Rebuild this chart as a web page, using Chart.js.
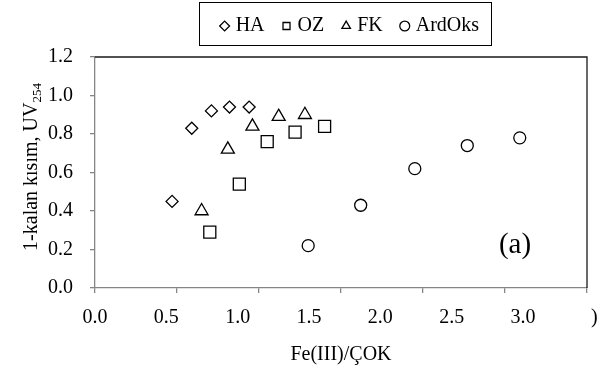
<!DOCTYPE html>
<html>
<head>
<meta charset="utf-8">
<script src="https://cdn.jsdelivr.net/npm/chart.js@4.4.0/dist/chart.umd.min.js"></script>
<style>
    html, body { margin: 0; padding: 0; background: #fff; }
    #contenedor { width: 611px; height: 367px; }
</style>
</head>
<body>
<div id="contenedor"><canvas id="grafico" width="611" height="367"></canvas></div>
<script>
// series (x = Fe(III)/ÇOK, y = 1-kalan kısım UV254)
var nombresSeries = ['HA', 'OZ', 'FK', 'ArdOks'];
var xHA = [0.47, 0.59, 0.71, 0.82, 0.94];
var yHA = [0.45, 0.83, 0.92, 0.94, 0.94];
var xOZ = [0.70, 0.88, 1.05, 1.22, 1.40];
var yOZ = [0.29, 0.54, 0.76, 0.81, 0.84];
var xFK = [0.65, 0.81, 0.96, 1.12, 1.28];
var yFK = [0.40, 0.72, 0.84, 0.89, 0.90];
var xArd = [1.30, 1.62, 1.95, 2.27, 2.59];
var yArd = [0.22, 0.43, 0.62, 0.74, 0.78];

// ejes
var marcasX = [0, 0.5, 1.0, 1.5, 2.0, 2.5, 3.0];
var valoresEtiquetasX = [0, 0.5, 1.0, 1.5, 2.0, 2.5, 3.0, 3.5];
var etiquetasX = ['0.0', '0.5', '1.0', '1.5', '2.0', '2.5', '3.0', ')'];
var marcasY = [0, 0.2, 0.4, 0.6, 0.8, 1.0, 1.2];
var tituloX = 'Fe(III)/ÇOK';
var tituloY = '1-kalan kısım, UV';
var subTituloY = '254';
var rotulo = '(a)';

var fuente = "'Liberation Serif', 'Times New Roman', serif";
var gris = '#868686';

function puntos(xs, ys) {
    var salida = [];
    for (var i = 0; i < xs.length; i++) {
        salida.push({ x: xs[i], y: ys[i] });
    }
    return salida;
}

function serie(nombre, xs, ys, estilo, radio) {
    return {
        label: nombre,
        data: puntos(xs, ys),
        xAxisID: 'x',
        yAxisID: 'y',
        pointStyle: estilo,
        pointRadius: radio,
        pointHoverRadius: radio,
        borderColor: '#000',
        backgroundColor: 'rgba(255,255,255,0)',
        pointBorderWidth: 1.3,
        showLine: false
    };
}

var plugMarco = {
    id: 'marco',
    afterLayout: function (chart) {
        var lg = chart.legend;
        if (!lg || !lg.lineWidths) return;
        var p = lg.options.labels.padding;
        var lw = lg.lineWidths[0];
        var inicio = (lg.left + p + lg.right - lw) / 2;
        var s = 349 + 2.35 - (lw - p) / 2 - inicio;
        lg.left += s;
        lg.right += s;
        var alto = lg.bottom - lg.top;
        lg.top = 28 - p - 12;
        lg.bottom = lg.top + alto;
    },
    afterDraw: function (chart) {
        var ctx = chart.ctx;
        var area = chart.chartArea;
        ctx.save();
        // borde superior y derecho del area
        ctx.strokeStyle = '#1a1a1a';
        ctx.lineWidth = 1.3;
        ctx.beginPath();
        ctx.moveTo(area.left, area.top);
        ctx.lineTo(area.right, area.top);
        ctx.lineTo(area.right, area.bottom);
        ctx.stroke();

        // caja de la leyenda
        var cajas = chart.legend.legendHitBoxes;
        if (cajas && cajas.length) {
            var primera = cajas[0];
            var ultima = cajas[cajas.length - 1];
            var cy = primera.top + primera.height / 2;
            var izq = Math.round(primera.left - 4.7 - 20);
            var der = Math.round(ultima.left + ultima.width + 12);
            ctx.strokeStyle = '#000';
            ctx.lineWidth = 1;
            ctx.strokeRect(izq + 0.5, Math.round(cy - 24.5) + 0.5, der - izq, 43);
        }

        // titulo del eje Y con subindice
        ctx.fillStyle = '#000';
        ctx.translate(37, 167);
        ctx.rotate(-Math.PI / 2);
        ctx.textBaseline = 'alphabetic';
        ctx.font = '20px ' + fuente;
        var w1 = ctx.measureText(tituloY).width;
        ctx.font = '13px ' + fuente;
        var w2 = ctx.measureText(subTituloY).width;
        var x0 = -(w1 + w2) / 2;
        ctx.font = '20px ' + fuente;
        ctx.fillText(tituloY, x0, 0);
        ctx.font = '13px ' + fuente;
        ctx.fillText(subTituloY, x0 + w1, 4);
        ctx.restore();

        ctx.save();
        ctx.fillStyle = '#000';
        ctx.font = '29px ' + fuente;
        ctx.textAlign = 'center';
        ctx.textBaseline = 'middle';
        ctx.fillText(rotulo, 515, 245);
        ctx.restore();
    }
};

Chart.defaults.font.family = fuente;
Chart.defaults.font.size = 20;
Chart.defaults.color = '#000';

var ctx = document.getElementById('grafico');
var myChart = new Chart(ctx, {
    type: 'scatter',
    data: {
        datasets: [
            serie(nombresSeries[0], xHA, yHA, 'rectRot', 6),
            serie(nombresSeries[1], xOZ, yOZ, 'rect', 8.5),
            serie(nombresSeries[2], xFK, yFK, 'triangle', 7.5),
            serie(nombresSeries[3], xArd, yArd, 'circle', 6)
        ]
    },
    options: {
        responsive: false,
        animation: false,
        devicePixelRatio: 1,
        layout: { padding: { top: 6, left: 0, right: 24, bottom: 0 } },
        plugins: {
            legend: {
                display: true,
                position: 'top',
                labels: {
                    usePointStyle: true,
                    boxWidth: 2,
                    boxHeight: 7,
                    padding: 21,
                    color: '#000',
                    font: { size: 20, family: fuente }
                }
            },
            tooltip: { enabled: false }
        },
        scales: {
            x: {
                type: 'linear',
                axis: 'x',
                position: 'bottom',
                weight: 0,
                min: 0,
                max: 3,
                afterBuildTicks: function (eje) {
                    eje.ticks = marcasX.map(function (v) { return { value: v }; });
                },
                ticks: { display: false },
                grid: { display: true, drawOnChartArea: false, drawTicks: true, tickLength: 5, color: gris, lineWidth: 1.3 },
                border: { display: true, color: gris, width: 1.3 }
            },
            xl: {
                type: 'linear',
                axis: 'x',
                position: 'bottom',
                weight: 1,
                min: 0,
                max: 3.449,
                afterBuildTicks: function (eje) {
                    eje.ticks = valoresEtiquetasX.map(function (v) { return { value: v }; });
                },
                ticks: {
                    autoSkip: false,
                    maxRotation: 0,
                    padding: 13,
                    color: '#000',
                    callback: function (valor, i) { return etiquetasX[i]; }
                },
                grid: { display: false, drawTicks: false },
                border: { display: false },
                title: { display: true, text: tituloX, color: '#000', padding: { top: 0, bottom: 0 } }
            },
            y: {
                type: 'linear',
                position: 'left',
                min: 0,
                max: 1.2,
                afterBuildTicks: function (eje) {
                    eje.ticks = marcasY.map(function (v) { return { value: v }; });
                },
                afterFit: function (eje) { eje.width = 95; },
                ticks: {
                    padding: 17,
                    color: '#000',
                    callback: function (valor) { return Number(valor).toFixed(1); }
                },
                grid: { display: true, drawOnChartArea: false, drawTicks: true, tickLength: 5, color: gris, lineWidth: 1.3 },
                border: { display: true, color: gris, width: 1.3 }
            }
        }
    },
    plugins: [plugMarco]
});
</script>
</body>
</html>
